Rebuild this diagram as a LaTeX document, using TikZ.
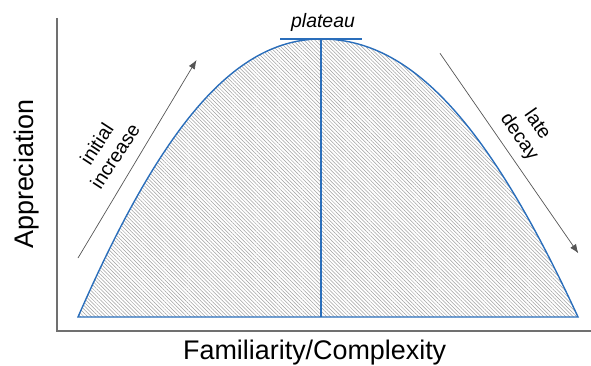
\documentclass[tikz,border=0pt]{standalone}
\usepackage{fontspec}
\setmainfont{Liberation Sans}
\usepackage{tikz}
\usetikzlibrary{arrows.meta, patterns.meta}
\definecolor{cblue}{HTML}{2A6EBB}
\definecolor{caxis}{HTML}{707070}
\definecolor{carrow}{HTML}{555555}

\begin{document}
\begin{tikzpicture}[x=1bp, y=1bp,
  axisline/.style={caxis, line width=2bp},
  curveline/.style={cblue, line width=1.4bp},
  trendarrow/.style={carrow, line width=0.7bp, -{Latex[length=9bp, width=7bp]}},
  biglabel/.style={font=\fontsize{27}{32}\selectfont},
  smalllabel/.style={font=\fontsize{19.5}{22}\selectfont, align=center}]
\useasboundingbox (0,0) rectangle (591,365);
% axes
\coordinate (top) at (56.5,347);
\coordinate (origin) at (56.5,34);
\coordinate (right) at (591,34);
\draw[axisline] (top) -- (origin) -- (right);
% hatched curve
\coordinate (start) at (78,48);
\coordinate (peak) at (321,326);
\coordinate (stop) at (578,48);
\coordinate (peakfoot) at (321,48);
\fill[pattern={Lines[angle=-45, distance=2.6bp, line width=0.5bp]}, pattern color=gray!75]
  (start) .. controls (163,242.6) and (236,326) .. (peak)
  .. controls (411,326) and (488,242.6) .. (stop) -- cycle;
\draw[curveline] (start) .. controls (163,242.6) and (236,326) .. (peak)
  .. controls (411,326) and (488,242.6) .. (stop) -- cycle;
\draw[curveline] (peak) -- (peakfoot);
\coordinate (platL) at (280,326);
\coordinate (platR) at (362,326);
\draw[curveline] (platL) -- (platR);
\node[smalllabel, font=\fontsize{19.5}{22}\selectfont\itshape, anchor=base] (plateau) at (323,338) {plateau};
% trend arrows
\coordinate (incA) at (78,107);
\coordinate (incB) at (196.5,305);
\draw[trendarrow] (incA) -- (incB);
\node[smalllabel, rotate=57] (increase) at (105.7,215) {initial\\increase};
\coordinate (decA) at (440,311.7);
\coordinate (decB) at (578.3,111.7);
\draw[trendarrow] (decA) -- (decB);
\node[smalllabel, rotate=-55] (decay) at (528,234) {late\\decay};
% axis titles
\node[biglabel, anchor=base] (xlabel) at (314.7,5.7) {Familiarity/Complexity};
\node[biglabel, anchor=base, rotate=90] (ylabel) at (33,191) {Appreciation};
\end{tikzpicture}
\end{document}
